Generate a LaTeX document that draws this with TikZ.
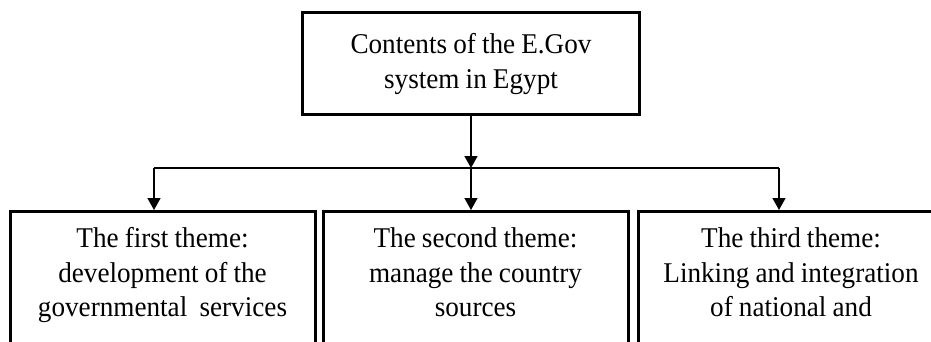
\documentclass[tikz,border=0pt]{standalone}
\usepackage{fontspec}
\setmainfont{Liberation Serif}[FakeStretch=0.95,WordSpace=0.9]
\usetikzlibrary{arrows.meta}
\tikzset{tb/.append style={draw,line width=1.5pt,align=center,minimum width=168.5pt,minimum height=51pt,font=\fontsize{14.3}{17.25}\selectfont}}
\tikzset{th/.append style={draw,line width=1.5pt,anchor=north,align=flush center,text width=140pt,minimum width=152.5pt,inner xsep=3pt,inner ysep=8pt,text height=10pt,text depth=80pt,font=\fontsize{14.3}{17.25}\selectfont}}
\tikzset{ar/.append style={line width=0.75pt,-{Triangle[length=6pt,width=6.5pt]}}}

\begin{document}
\begin{tikzpicture}[x=0.5pt,y=-0.5pt]
                \useasboundingbox (0,0) rectangle (931,342);
                % boxes
                \node[tb] (contents) at (471,64) {Contents of the E.Gov\\system in Egypt};
                \node[th] (first) at (162.5,210) {The first theme:\\development of the\\governmental\ \ services};
                \node[th] (second) at (475.5,210) {The second theme:\\manage the country\\sources};
                \node[th] (third) at (791,210) {The third theme:\\Linking and integration\\of national and};
                % branch points
                \coordinate (bl) at (154,168);
                \coordinate (br) at (779,168);
                \coordinate (bm) at (contents.south |- bl);
                \draw[line width=0.75pt] (bl) -- (br);
                \path (contents) edge[ar] (bm);
                \path (bl) edge[ar] (bl |- first.north);
                \path (bm) edge[ar] (bm |- second.north);
                \path (br) edge[ar] (br |- third.north);
            \end{tikzpicture}
\end{document}
